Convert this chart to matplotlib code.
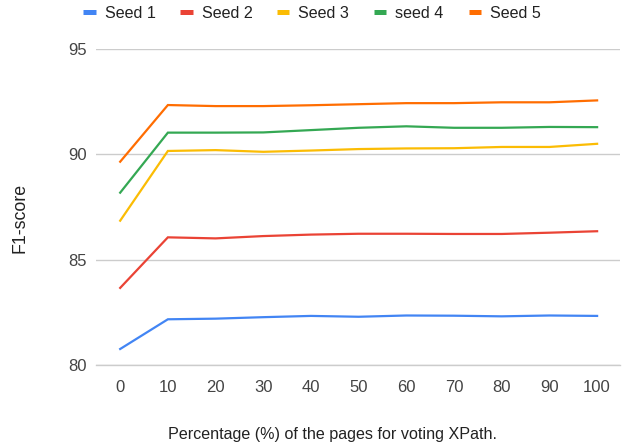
import matplotlib
matplotlib.use("Agg")
import matplotlib.pyplot as plt
from matplotlib.lines import Line2D

plt.rcParams['font.family'] = ['Liberation Sans', 'DejaVu Sans']

x = [0, 10, 20, 30, 40, 50, 60, 70, 80, 90, 100]
seed1 = [80.76, 82.17, 82.20, 82.27, 82.33, 82.29, 82.35, 82.34, 82.31, 82.35, 82.33]
seed2 = [83.66, 86.06, 86.01, 86.12, 86.19, 86.23, 86.23, 86.22, 86.22, 86.28, 86.35]
seed3 = [86.85, 90.16, 90.20, 90.12, 90.18, 90.25, 90.28, 90.29, 90.35, 90.35, 90.50]
seed4 = [88.18, 91.03, 91.03, 91.04, 91.15, 91.26, 91.33, 91.26, 91.26, 91.30, 91.29]
seed5 = [89.65, 92.34, 92.29, 92.29, 92.33, 92.38, 92.43, 92.43, 92.47, 92.47, 92.56]
names = ["Seed 1", "Seed 2", "Seed 3", "seed 4", "Seed 5"]
colors = ["#4285F4", "#EA4335", "#FBBC04", "#34A853", "#FF6D01"]
yticks = [80, 85, 90, 95]

W, H = 624, 446
fig = plt.figure(figsize=(W/100, H/100), dpi=100)
ax = fig.add_axes([96/W, 1-365/H, (620-96)/W, (365-49)/H])

for s, n, c in zip([seed1, seed2, seed3, seed4, seed5], names, colors):
    ax.plot(x, s, color=c, lw=1.6, label=n, solid_joinstyle='miter')

ax.set_xlim(-5.07, 104.8)
ax.set_ylim(80, 95)
ax.set_xticks(x)
ax.set_yticks(yticks)
ax.grid(axis='y', color='#cccccc', lw=1)
ax.set_axisbelow(True)
for sp in ['top', 'right', 'left']:
    ax.spines[sp].set_visible(False)
ax.spines['bottom'].set_color('#cccccc')
ax.spines['bottom'].set_linewidth(1)
ax.tick_params(axis='both', length=0, labelsize=12, labelcolor='#444444')
ax.tick_params(axis='x', pad=11)
ax.tick_params(axis='y', pad=6.5)

fig.text(332/W, 1-435/H, "Percentage (%) of the pages for voting XPath.",
         fontsize=11.6, color='#222222', ha='center', va='center')
fig.text(20/W, 1-218/H, "F1-score", fontsize=12.8, color='#222222',
         ha='center', va='center', rotation=90)

handles = [Line2D([0], [0], color=c, lw=3.6, solid_capstyle='butt') for c in colors]
fig.legend(handles, names, loc='center', bbox_to_anchor=(312/W, 1-13/H), ncol=5,
           frameon=False, fontsize=11.6, handlelength=0.75, handletextpad=0.56,
           columnspacing=1.55, labelcolor='#222222', borderaxespad=0, borderpad=0)

fig.savefig("out.png", dpi=100)
